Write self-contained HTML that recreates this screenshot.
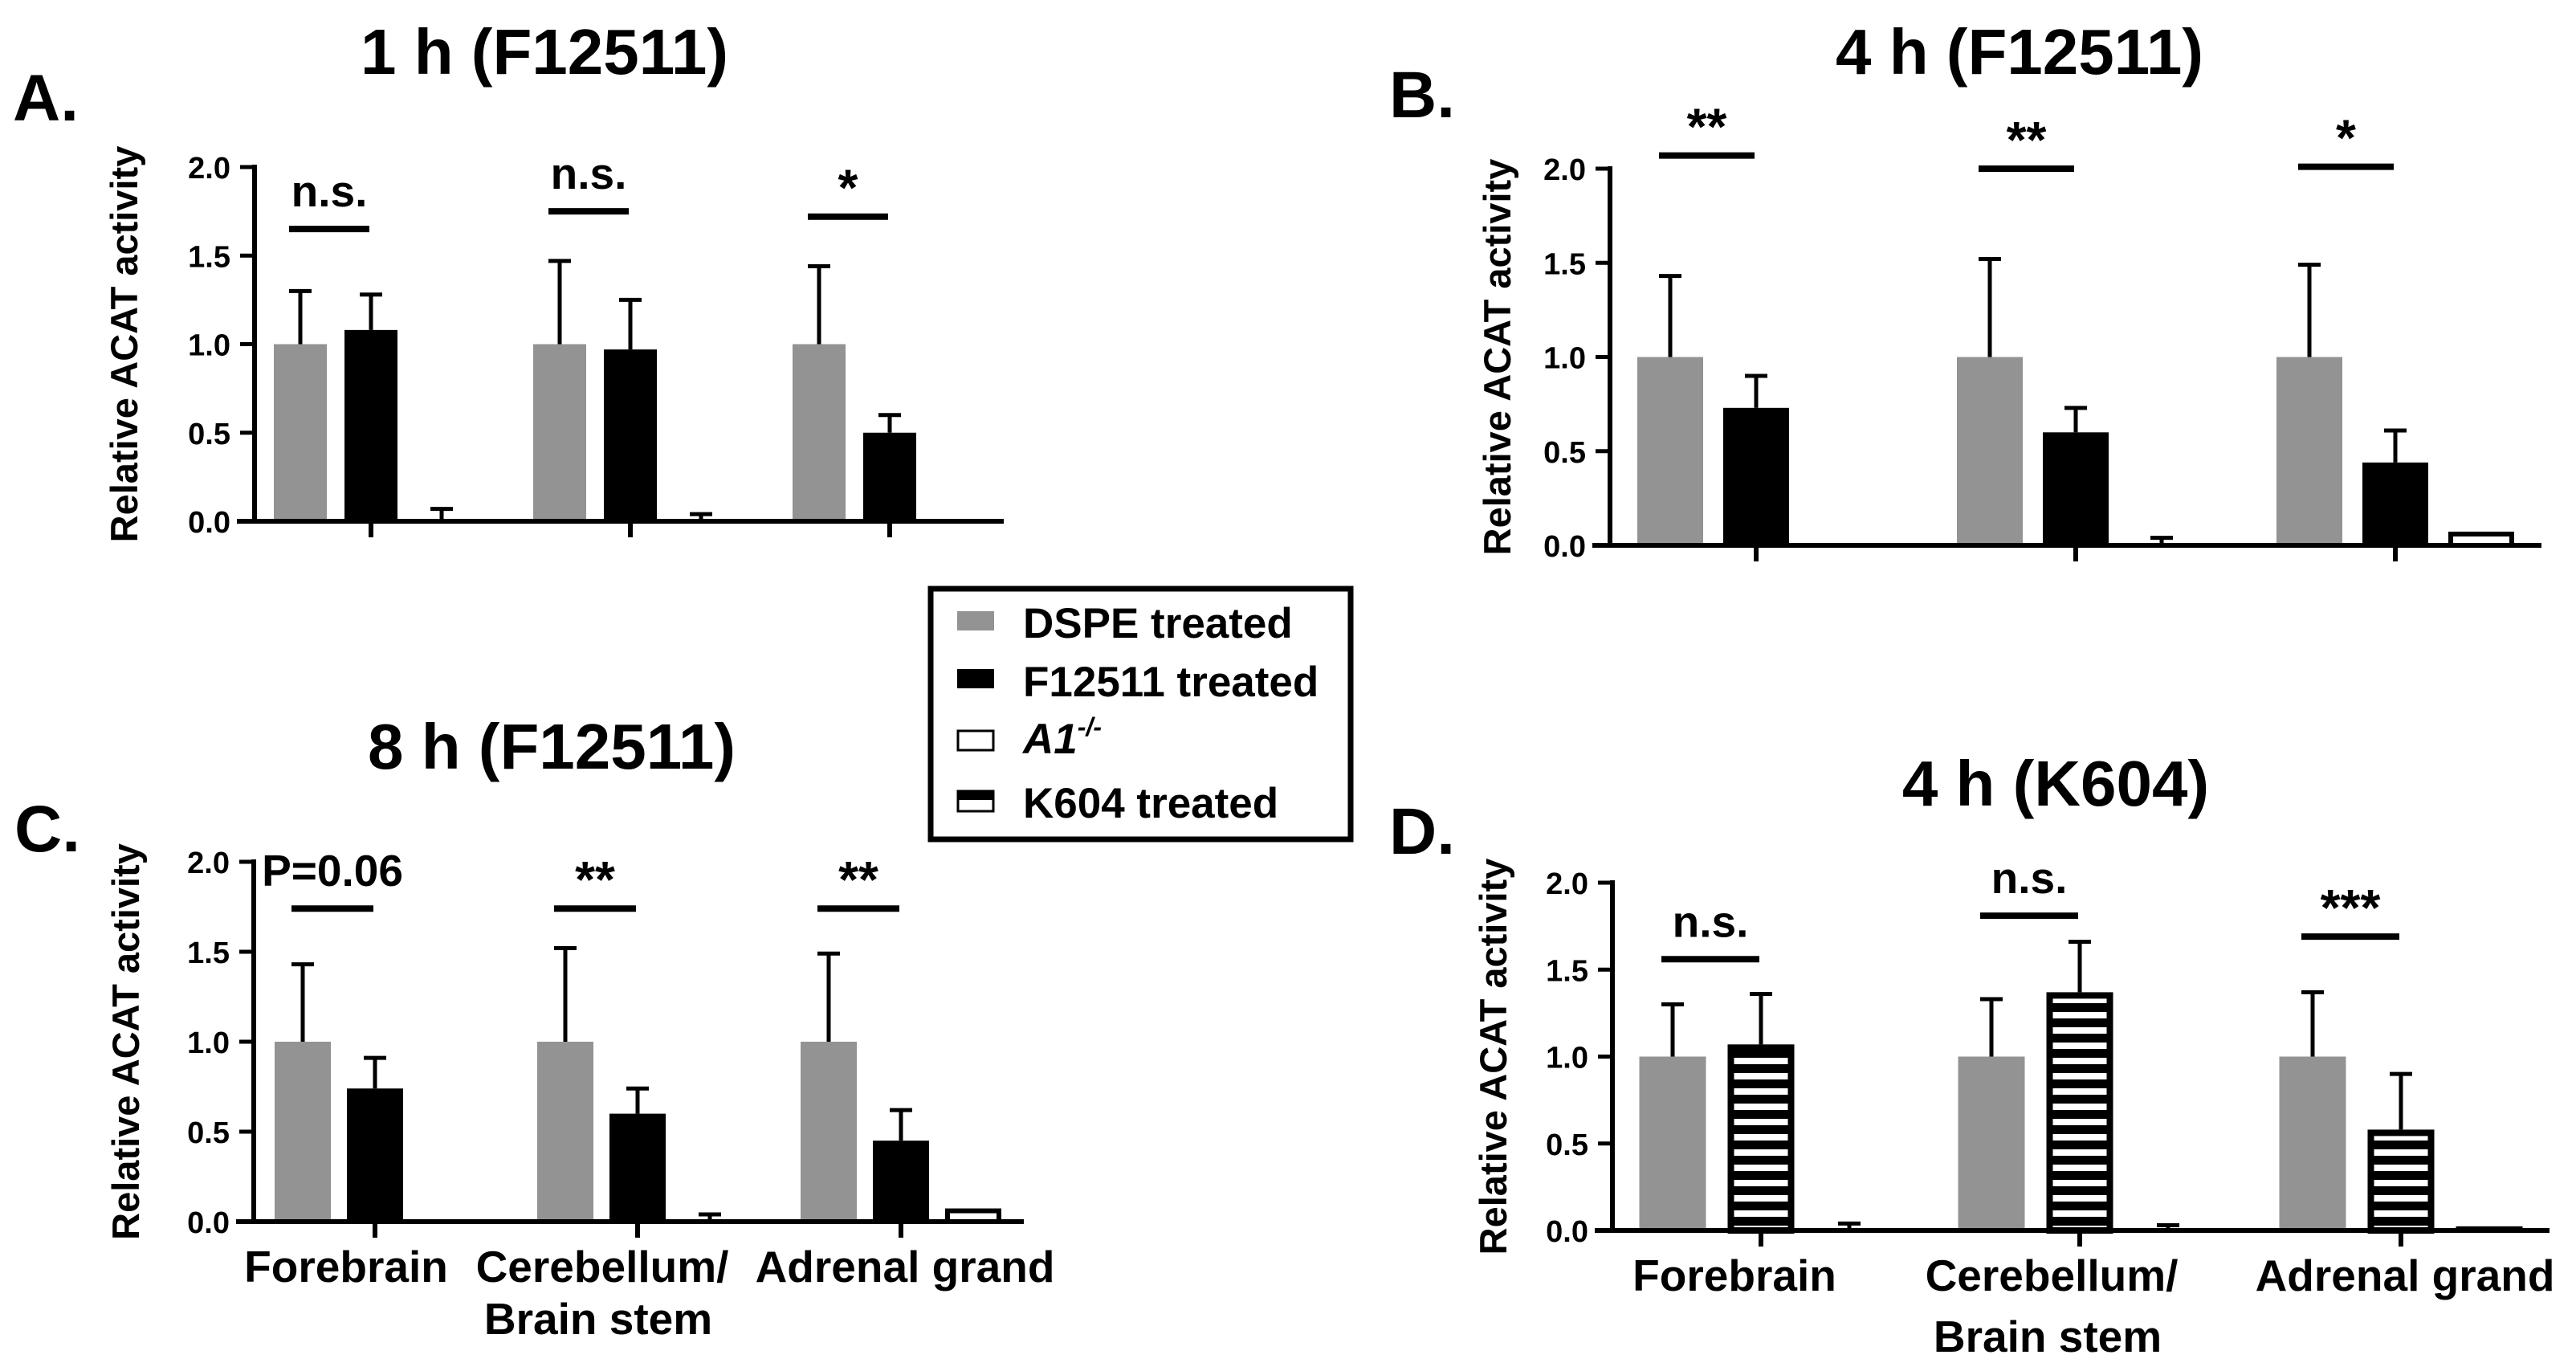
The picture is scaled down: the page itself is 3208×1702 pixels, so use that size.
<!DOCTYPE html>
<html><head><meta charset="utf-8">
<style>
html,body{margin:0;padding:0;background:#fff;}
svg{display:block;}
text{font-family:"Liberation Sans",Arial,sans-serif;font-weight:bold;fill:#000;}
</style></head>
<body>
<svg id="fig" width="3208" height="1702" viewBox="0 0 3208 1702" xmlns="http://www.w3.org/2000/svg">
<defs>
<pattern id="hatch" patternUnits="userSpaceOnUse" width="20" height="19">
<rect width="20" height="19" fill="#000"/>
<rect y="6" width="20" height="8" fill="#fff"/>
</pattern>
</defs>
<g id="legend">
<rect x="1159" y="733" width="523" height="312" fill="#fff" stroke="#000" stroke-width="7"/>
<rect x="1192" y="761" width="46" height="24" fill="#939393"/>
<text x="1274" y="794" font-size="53">DSPE treated</text>
<rect x="1192" y="833" width="46" height="24" fill="#000"/>
<text x="1274" y="867" font-size="53">F12511 treated</text>
<rect x="1193" y="910" width="44" height="24" fill="#fff" stroke="#000" stroke-width="3"/>
<text x="1274" y="938" font-size="53" font-style="italic">A1<tspan font-size="32" dy="-22">-/-</tspan></text>
<rect x="1193" y="985" width="44" height="25" fill="#fff" stroke="#000" stroke-width="3"/>
<rect x="1193" y="985" width="44" height="11" fill="#000"/>
<text x="1274" y="1018" font-size="53">K604 treated</text>
</g>
</svg>
<script>
// ---- data ----
const categories = ["Forebrain", "Cerebellum/Brain stem", "Adrenal grand"];
const ticks = [0, 0.5, 1.0, 1.5, 2.0];
const tickLabels = ["0.0", "0.5", "1.0", "1.5", "2.0"];

const aDspe = [1, 1, 1];
const aDspeErr = [0.30, 0.47, 0.44];
const aTreat = [1.08, 0.97, 0.50];
const aTreatErr = [0.20, 0.28, 0.10];
const aKo = [0, 0, 0];
const aKoErr = [0.07, 0.04, 0];
const aSig = ["n.s.", "n.s.", "*"];
const aSigY = [1.65, 1.75, 1.72];

const bDspe = [1, 1, 1];
const bDspeErr = [0.43, 0.52, 0.49];
const bTreat = [0.73, 0.60, 0.44];
const bTreatErr = [0.17, 0.13, 0.17];
const bKo = [0, 0, 0.06];
const bKoErr = [0, 0.04, 0];
const bSig = ["**", "**", "*"];
const bSigY = [2.07, 2.0, 2.01];

const cDspe = [1, 1, 1];
const cDspeErr = [0.43, 0.52, 0.49];
const cTreat = [0.74, 0.60, 0.45];
const cTreatErr = [0.17, 0.14, 0.17];
const cKo = [0, 0, 0.06];
const cKoErr = [0, 0.04, 0];
const cSig = ["P=0.06", "**", "**"];
const cSigY = [1.74, 1.74, 1.74];

const dDspe = [1, 1, 1];
const dDspeErr = [0.30, 0.33, 0.37];
const dTreat = [1.07, 1.37, 0.58];
const dTreatErr = [0.29, 0.29, 0.32];
const dKo = [0, 0, 0.01];
const dKoErr = [0.04, 0.03, 0];
const dSig = ["n.s.", "n.s.", "***"];
const dSigY = [1.56, 1.81, 1.69];

// ---- layout (pixels) ----
const panels = [
 {id:"a", letter:"A.", title:"1 h (F12511)", lx:16, ly:150, tx:678, ty:92, ax:317, xEnd:1250, y0:649, y2:208, centers:[462,785,1108], bw:66, off:88, ylx:155,
  dspe:aDspe, dspeErr:aDspeErr, treat:aTreat, treatErr:aTreatErr, ko:aKo, koErr:aKoErr, sig:aSig, sigY:aSigY, hatch:false, labels:null},
 {id:"b", letter:"B.", title:"4 h (F12511)", lx:1730, ly:146, tx:2515, ty:92, ax:2005, xEnd:3165, y0:679, y2:210, centers:[2187,2585,2983], bw:82, off:107, ylx:1865,
  dspe:bDspe, dspeErr:bDspeErr, treat:bTreat, treatErr:bTreatErr, ko:bKo, koErr:bKoErr, sig:bSig, sigY:bSigY, hatch:false, labels:null},
 {id:"c", letter:"C.", title:"8 h (F12511)", lx:18, ly:1060, tx:687, ty:957, ax:316, xEnd:1275, y0:1521, y2:1073, centers:[467,794,1122], bw:70, off:90, ylx:157,
  dspe:cDspe, dspeErr:cDspeErr, treat:cTreat, treatErr:cTreatErr, ko:cKo, koErr:cKoErr, sig:cSig, sigY:cSigY, hatch:false,
  labels:{xs:[431,750,1127], x2:745, y1:1596, y2:1661}},
 {id:"d", letter:"D.", title:"4 h (K604)", lx:1730, ly:1063, tx:2560, ty:1003, ax:2008, xEnd:3175, y0:1532, y2:1099, centers:[2193,2590,2990], bw:83, off:110, ylx:1860,
  dspe:dDspe, dspeErr:dDspeErr, treat:dTreat, treatErr:dTreatErr, ko:dKo, koErr:dKoErr, sig:dSig, sigY:dSigY, hatch:true,
  labels:{xs:[2160,2555,2995], x2:2550, y1:1607, y2:1683}}
];

const NS = "http://www.w3.org/2000/svg";
const svg = document.getElementById("fig");
function mk(tag, attrs, parent){
  const e = document.createElementNS(NS, tag);
  for (const k in attrs) e.setAttribute(k, attrs[k]);
  (parent||svg).appendChild(e);
  return e;
}
function errBar(g, x, yTop, yBase, cap){
  const l = mk("line", {x1:x, x2:x, y1:yBase, y2:yTop, stroke:"#000", "stroke-width":5}, g);
  
  
  const c = mk("line", {x1:x-cap, x2:x+cap, y1:yTop, y2:yTop, stroke:"#000", "stroke-width":5}, g);
  
  
}

panels.forEach(p => {
  const g = mk("g", {});
  
  
  const unit = (p.y0 - p.y2) / 2;
  const Y = v => p.y0 - v * unit;

  const lt = mk("text", {x:p.lx, y:p.ly, "font-size":82}, g);
  lt.textContent = p.letter;
  
  

  const tt = mk("text", {x:p.tx, y:p.ty, "font-size":80, "text-anchor":"middle"}, g);
  tt.textContent = p.title;
  
  

  const yl = mk("text", {x:0, y:0, "font-size":47, "text-anchor":"middle", transform:"translate(" + (p.ylx+16) + "," + ((p.y0+p.y2)/2) + ") rotate(-90)"}, g);
  yl.textContent = "Relative ACAT activity";
  
  

  categories.forEach((cat, i) => {
    const cx = p.centers[i];
    const gx = cx - p.off, kx = cx + p.off;
    const r1 = mk("rect", {x:gx - p.bw/2, y:Y(p.dspe[i]), width:p.bw, height:p.dspe[i]*unit, fill:"#939393"}, g);
    
    
    errBar(g, gx, Y(p.dspe[i] + p.dspeErr[i]), Y(p.dspe[i]), 14);

    let r2;
    if (p.hatch) {
      r2 = mk("rect", {x:cx - p.bw/2 + 4, y:Y(p.treat[i]) + 4, width:p.bw - 8, height:p.treat[i]*unit - 4, fill:"url(#hatch)", stroke:"#000", "stroke-width":8}, g);
      
    } else {
      r2 = mk("rect", {x:cx - p.bw/2, y:Y(p.treat[i]), width:p.bw, height:p.treat[i]*unit, fill:"#000"}, g);
      
    }
    
    errBar(g, cx, Y(p.treat[i] + p.treatErr[i]), Y(p.treat[i]), 14);

    if (p.ko[i] > 0) {
      const r3 = mk("rect", {x:kx - p.bw/2 + 3, y:Y(p.ko[i]), width:p.bw - 6, height:p.ko[i]*unit, fill:"#fff", stroke:"#000", "stroke-width":6}, g);
      
      
    }
    if (p.koErr[i] > 0) errBar(g, kx, Y(p.ko[i] + p.koErr[i]), Y(p.ko[i]), 14);

    const sy = Y(p.sigY[i]);
    const sl = mk("line", {x1:gx - 14, x2:cx - 2, y1:sy, y2:sy, stroke:"#000", "stroke-width":8}, g);
    
    
    const st = mk("text", {x:(gx + cx)/2 - 8, y:sy - (p.sig[i].indexOf("*")>=0 ? 14 : 28), "font-size":p.sig[i].indexOf("*")>=0 ? 64 : 55, "text-anchor":"middle"}, g);
    st.textContent = p.sig[i];
    
    

    const xt = mk("line", {x1:cx, x2:cx, y1:p.y0, y2:p.y0 + 20, stroke:"#000", "stroke-width":6}, g);
    
    
  });

  const ya = mk("line", {x1:p.ax, x2:p.ax, y1:p.y2 - 3, y2:p.y0, stroke:"#000", "stroke-width":6}, g);
  
  
  const xa = mk("line", {x1:p.ax - 22, x2:p.xEnd, y1:p.y0, y2:p.y0, stroke:"#000", "stroke-width":6}, g);
  
  

  ticks.forEach((t, j) => {
    const tk = mk("line", {x1:p.ax - 18, x2:p.ax, y1:Y(t), y2:Y(t), stroke:"#000", "stroke-width":5}, g);
    
    
    const tl = mk("text", {x:p.ax - 30, y:Y(t) + 14, "font-size":38, "text-anchor":"end"}, g);
    tl.textContent = tickLabels[j];
    
    
  });

  if (p.labels) {
    const names = ["Forebrain", "Cerebellum/", "Adrenal grand"];
    names.forEach((n, i) => {
      const cl = mk("text", {x:p.labels.xs[i], y:p.labels.y1, "font-size":55, "text-anchor":"middle"}, g);
      cl.textContent = n;
      
      
    });
    const c2 = mk("text", {x:p.labels.x2, y:p.labels.y2, "font-size":55, "text-anchor":"middle"}, g);
    c2.textContent = "Brain stem";
    
    
  }
});
</script>
</body></html>
